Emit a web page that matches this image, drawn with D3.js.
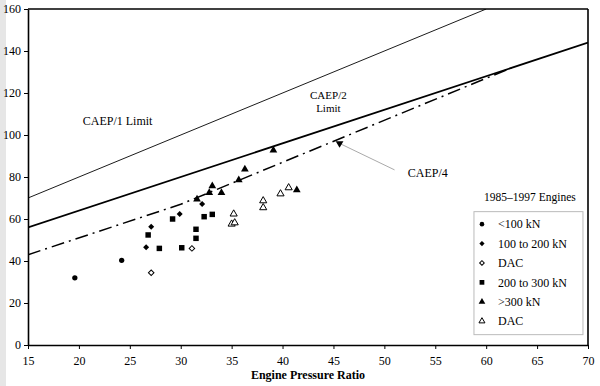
<!DOCTYPE html>
<html>
<head>
<meta charset="utf-8">
<script src="https://cdn.jsdelivr.net/npm/d3@7"></script>
<style>
  body { margin: 0; background: #fff; }
  svg { display: block; }
  svg text { font-family: "Liberation Serif", "DejaVu Serif", serif; }
</style>
</head>
<body>
<svg id="chart" width="600" height="386"></svg>
<script>
// limit lines (pressure ratio, Dp/Foo)
const caep1 = [[15, 70], [60, 160]];
const caep2 = [[15, 56], [70, 144]];
const caep4 = [[15, 43], [30, 67], [62.5, 132]];

// engines 1985-1997
const under100 = [[19.6, 32.0], [24.2, 40.3]];
const from100to200 = [[26.6, 46.5], [27.1, 56.3], [29.9, 62.4], [32.1, 67.1]];
const dacSmall = [[27.1, 34.4], [31.1, 46.0]];
const from200to300 = [[26.8, 52.4], [27.9, 46.0], [29.2, 60.0], [30.1, 46.3],
                      [31.5, 55.1], [31.5, 50.8], [32.3, 61.1], [33.1, 62.2]];
const over300 = [[31.6, 69.4], [32.8, 72.5], [33.1, 75.7], [34.0, 72.5],
                 [35.7, 78.6], [36.3, 83.7], [39.1, 92.7], [41.4, 73.8]];
const dacLarge = [[35.2, 62.4], [35.0, 57.6], [35.3, 58.2], [38.1, 68.7],
                  [38.1, 65.4], [39.8, 72.0], [40.6, 74.9]];

const caep4Pointer = [[45.6, 96.0], [51.0, 83.4]];

const xTicks = d3.range(15, 71, 5);
const yTicks = d3.range(0, 161, 20);

const legendTitle = "1985\u20131997 Engines";
const legendItems = [
  { label: "<100 kN", shape: "circle", fill: true, data: under100 },
  { label: "100 to 200 kN", shape: "diamond", fill: true, data: from100to200 },
  { label: "DAC", shape: "diamond", fill: false, data: dacSmall },
  { label: "200 to 300 kN", shape: "square", fill: true, data: from200to300 },
  { label: ">300 kN", shape: "triangle", fill: true, data: over300 },
  { label: "DAC", shape: "triangle", fill: false, data: dacLarge }
];

const svg = d3.select("#chart");
const margin = { top: 9, right: 12, bottom: 41, left: 28 };
const width = 600 - margin.left - margin.right;
const height = 386 - margin.top - margin.bottom;
const serif = "Liberation Serif";

// grey strip down the left edge of the scan
svg.append("rect").attr("x", 0).attr("y", 0).attr("width", 6).attr("height", 386).attr("fill", "#e6e6e6");

const x = d3.scaleLinear().domain([15, 70]).range([0, width]);
const y = d3.scaleLinear().domain([0, 160]).range([height, 0]);

const g = svg.append("g").attr("transform", `translate(${margin.left},${margin.top})`)
  .attr("font-family", serif);

g.append("clipPath").attr("id", "clip")
  .append("rect").attr("width", width).attr("height", height);

const line = d3.line().x(d => x(d[0])).y(d => y(d[1]));
const plot = g.append("g").attr("clip-path", "url(#clip)");

plot.append("path").datum(caep1).attr("d", line)
  .attr("fill", "none").attr("stroke", "#000").attr("stroke-width", 0.9);
plot.append("path").datum(caep2).attr("d", line)
  .attr("fill", "none").attr("stroke", "#000").attr("stroke-width", 1.8);
plot.append("path").datum(caep4).attr("d", line)
  .attr("fill", "none").attr("stroke", "#000").attr("stroke-width", 1.5)
  .attr("stroke-dasharray", "13,5,2,5");

// pointer to CAEP/4
plot.append("path").datum(caep4Pointer).attr("d", line)
  .attr("fill", "none").attr("stroke", "#aaa").attr("stroke-width", 1);
plot.append("path")
  .attr("d", d3.symbol(d3.symbolTriangle, 26)())
  .attr("transform", `translate(${x(caep4Pointer[0][0])},${y(caep4Pointer[0][1])}) rotate(180)`)
  .attr("fill", "#000");

function symPath(shape, s) {
  if (shape === "circle") return d3.symbol(d3.symbolCircle, 22 * s)();
  if (shape === "square") return d3.symbol(d3.symbolSquare, 30 * s)();
  if (shape === "triangle") return d3.symbol(d3.symbolTriangle, 26 * s)();
  return d3.symbol(d3.symbolSquare, 18 * s)();
}
function symTransform(shape) {
  return shape === "diamond" ? " rotate(45)" : "";
}

legendItems.forEach(item => {
  plot.selectAll(null).data(item.data).join("path")
    .attr("d", symPath(item.shape, item.fill ? 1 : 0.85))
    .attr("transform", d => `translate(${x(d[0])},${y(d[1])})` + symTransform(item.shape))
    .attr("fill", item.fill ? "#000" : "#fff")
    .attr("stroke", "#000").attr("stroke-width", item.fill ? 0 : 1);
});

// axes
const xAxis = g.append("g").attr("transform", `translate(0,${height})`)
  .call(d3.axisBottom(x).tickValues(xTicks).tickSize(4).tickSizeOuter(0));
const yAxis = g.append("g")
  .call(d3.axisLeft(y).tickValues(yTicks).tickSize(4).tickSizeOuter(0));
[xAxis, yAxis].forEach(a => {
  a.attr("font-family", serif).attr("font-size", 12);
  a.select(".domain").attr("stroke-width", 1.6);
  a.selectAll("text").attr("fill", "#000");
});
xAxis.selectAll("text").attr("dy", "1.05em");

// frame top & right
g.append("line").attr("x1", 0).attr("x2", width).attr("y1", 0).attr("y2", 0)
  .attr("stroke", "#000").attr("stroke-width", 1.6);
g.append("line").attr("x1", width).attr("x2", width).attr("y1", 0).attr("y2", height)
  .attr("stroke", "#000").attr("stroke-width", 1.6);

g.append("text").attr("x", x(42.5)).attr("y", height + 34)
  .attr("text-anchor", "middle").attr("font-size", 12).attr("font-weight", "bold")
  .text("Engine Pressure Ratio");

// line labels
g.append("text").attr("x", x(23.8)).attr("y", y(105)).attr("text-anchor", "middle")
  .attr("font-size", 12).text("CAEP/1 Limit");
g.append("text").attr("x", x(44.5)).attr("y", y(117)).attr("text-anchor", "middle")
  .attr("font-size", 11).text("CAEP/2");
g.append("text").attr("x", x(44.5)).attr("y", y(111)).attr("text-anchor", "middle")
  .attr("font-size", 11).text("Limit");
g.append("text").attr("x", x(52.3)).attr("y", y(80)).attr("font-size", 12).text("CAEP/4");

// legend
const lx = x(58.8), ly = y(63.5);
g.append("text").attr("x", x(64.3)).attr("y", y(68.6)).attr("text-anchor", "middle")
  .attr("font-size", 11.5).text(legendTitle);
g.append("rect").attr("x", lx).attr("y", ly).attr("width", 109).attr("height", 123)
  .attr("fill", "#fff").attr("stroke", "#bbb").attr("stroke-width", 1);
const leg = g.selectAll(".leg").data(legendItems).join("g")
  .attr("transform", (d, i) => `translate(${lx + 8},${ly + 12.5 + i * 19.4})`);
leg.append("path")
  .attr("d", d => symPath(d.shape, d.fill ? 0.75 : 0.6))
  .attr("transform", d => symTransform(d.shape))
  .attr("fill", d => d.fill ? "#000" : "#fff")
  .attr("stroke", "#000").attr("stroke-width", d => d.fill ? 0 : 1);
leg.append("text").attr("x", 16).attr("dy", "0.35em").attr("font-size", 12).text(d => d.label);
</script>
</body>
</html>
